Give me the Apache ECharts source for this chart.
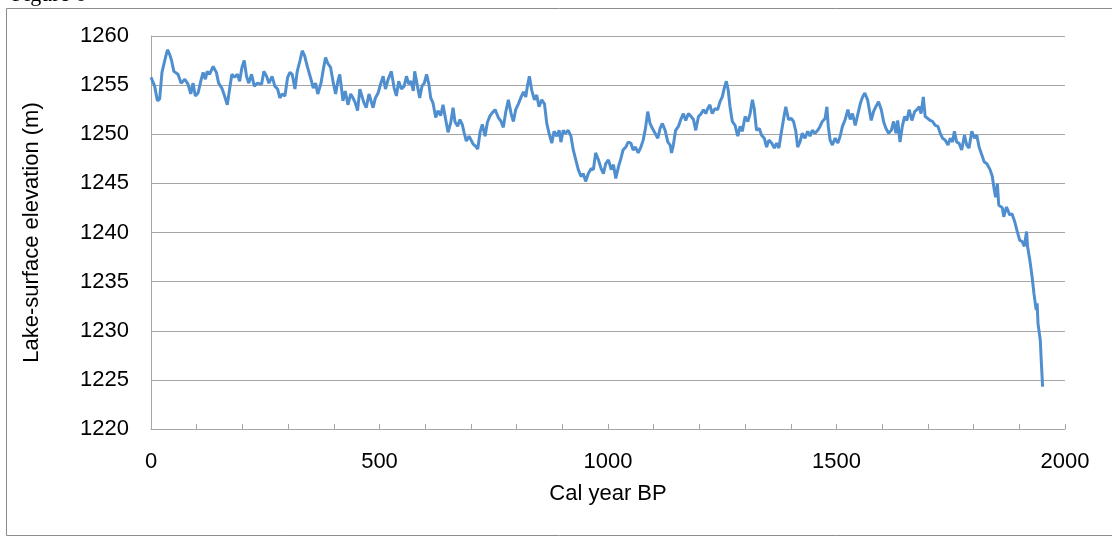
<!DOCTYPE html>
<html>
<head>
<meta charset="utf-8">
<title>Lake-surface elevation</title>
<script src="https://cdn.jsdelivr.net/npm/echarts@6/dist/echarts.min.js"></script>
<style>
  html, body { margin: 0; padding: 0; background: #ffffff; }
  #chart { width: 1112px; height: 542px; }
</style>
</head>
<body>
<div id="chart"></div>
<script>
// Reconstructed lake-surface elevation (m) by calibrated year BP
const years = [
  0, 2, 8, 14, 19, 24, 30, 36, 41, 45, 50, 59, 66, 74, 81, 87, 92, 97, 103, 109,
  114, 119, 123, 128, 136, 143, 148, 155, 161, 167, 172, 177, 183, 189, 194, 199, 204, 209, 214, 220,
  226, 233, 242, 247, 253, 258, 265, 271, 277, 282, 287, 293, 299, 304, 309, 315, 320, 326, 331, 336,
  342, 350, 355, 360, 365, 372, 377, 382, 387, 393, 399, 404, 409, 413, 417, 420, 425, 431, 437, 442,
  447, 452, 457, 461, 466, 471, 477, 481, 486, 491, 497, 503, 508, 513, 519, 526, 532, 537, 542, 548,
  554, 559, 564, 569, 574, 577, 583, 588, 593, 598, 603, 608, 612, 617, 623, 628, 634, 639, 644, 650,
  656, 661, 665, 671, 676, 681, 685, 690, 696, 700, 705, 710, 715, 720, 725, 731, 736, 742, 747, 753,
  760, 766, 771, 776, 782, 788, 793, 798, 804, 810, 815, 820, 824, 828, 833, 839, 844, 849, 855, 861,
  866, 871, 877, 882, 888, 893, 897, 902, 907, 913, 919, 924, 929, 935, 941, 946, 951, 957, 963, 968,
  973, 979, 985, 990, 995, 1001, 1007, 1012, 1017, 1023, 1028, 1033, 1039, 1044, 1050, 1055, 1060, 1066, 1072, 1077,
  1082, 1087, 1092, 1097, 1103, 1109, 1114, 1119, 1125, 1131, 1136, 1139, 1143, 1148, 1154, 1160, 1165, 1170, 1176, 1182,
  1187, 1192, 1198, 1204, 1209, 1214, 1218, 1223, 1228, 1234, 1240, 1245, 1250, 1255, 1259, 1263, 1267, 1272, 1278, 1284,
  1289, 1294, 1300, 1306, 1311, 1316, 1320, 1325, 1331, 1336, 1342, 1347, 1352, 1358, 1364, 1369, 1374, 1379, 1384, 1389,
  1395, 1401, 1406, 1411, 1415, 1420, 1425, 1431, 1437, 1442, 1447, 1453, 1459, 1464, 1469, 1475, 1479, 1482, 1486, 1491,
  1497, 1503, 1508, 1513, 1519, 1525, 1530, 1535, 1541, 1547, 1552, 1557, 1562, 1568, 1576, 1581, 1586, 1592, 1598, 1603,
  1608, 1614, 1620, 1625, 1630, 1634, 1639, 1644, 1649, 1654, 1659, 1665, 1671, 1676, 1681, 1685, 1690, 1694, 1700, 1705,
  1710, 1716, 1722, 1727, 1732, 1738, 1744, 1749, 1754, 1758, 1763, 1768, 1774, 1780, 1785, 1790, 1796, 1802, 1807, 1812,
  1818, 1823, 1829, 1836, 1841, 1844, 1848, 1852, 1855, 1863, 1866, 1872, 1879, 1884, 1890, 1895, 1901, 1906, 1911, 1916,
  1918, 1923, 1928, 1932, 1937, 1939, 1941, 1946, 1948, 1951
];

const elevation = [
  1255.8, 1255.6, 1254.9, 1253.4, 1253.6, 1256.3, 1257.5, 1258.6, 1258.1, 1257.5, 1256.4, 1256.1, 1255.2, 1255.6, 1255.1, 1254.1, 1255.2, 1253.9, 1254.2, 1255.4,
  1256.3, 1255.6, 1256.4, 1256.1, 1256.9, 1256.3, 1255.2, 1254.7, 1253.9, 1253.0, 1254.6, 1256.1, 1255.8, 1256.1, 1255.4, 1256.8, 1257.5, 1255.9, 1255.2, 1256.1,
  1254.9, 1255.2, 1255.1, 1256.4, 1255.9, 1255.2, 1255.9, 1254.9, 1254.6, 1253.7, 1254.1, 1253.9, 1255.8, 1256.3, 1256.1, 1254.6, 1256.4, 1257.5, 1258.5, 1258.0,
  1256.9, 1255.6, 1254.7, 1255.2, 1254.1, 1255.2, 1256.6, 1257.8, 1257.2, 1256.8, 1255.2, 1254.1, 1255.4, 1256.1, 1254.6, 1253.4, 1254.4, 1253.0, 1254.1, 1253.7,
  1253.2, 1252.4, 1254.6, 1254.7, 1253.2, 1252.7, 1254.1, 1254.2, 1252.7, 1253.7, 1254.2, 1255.2, 1255.9, 1254.6, 1255.6, 1256.4, 1254.7, 1253.9, 1255.4, 1254.6,
  1254.9, 1255.9, 1255.1, 1255.4, 1254.4, 1256.4, 1254.9, 1253.7, 1254.9, 1255.2, 1256.1, 1255.1, 1253.7, 1253.2, 1251.7, 1252.4, 1251.9, 1253.0, 1251.7, 1250.2,
  1251.2, 1252.7, 1251.3, 1250.8, 1251.5, 1251.0, 1250.2, 1249.3, 1249.8, 1250.0, 1249.0, 1248.8, 1248.5, 1250.2, 1251.0, 1249.8, 1251.2, 1251.9, 1252.2, 1252.5,
  1251.7, 1251.3, 1250.7, 1252.2, 1253.5, 1252.1, 1251.3, 1252.5, 1253.1, 1253.8, 1254.3, 1253.8, 1255.0, 1255.9, 1254.5, 1253.5, 1254.0, 1252.8, 1253.5, 1253.1,
  1251.1, 1250.1, 1249.1, 1250.3, 1249.8, 1250.4, 1249.2, 1250.4, 1250.1, 1250.4, 1249.8, 1248.4, 1247.5, 1246.4, 1245.7, 1246.0, 1245.2, 1246.0, 1246.5, 1246.4,
  1248.1, 1247.4, 1246.5, 1246.0, 1247.0, 1247.4, 1246.4, 1246.9, 1245.5, 1246.7, 1247.5, 1248.4, 1248.7, 1249.2, 1249.1, 1248.4, 1248.7, 1248.1, 1248.7, 1249.4,
  1250.6, 1252.3, 1251.1, 1250.6, 1250.1, 1249.6, 1250.6, 1251.1, 1250.4, 1249.2, 1248.9, 1248.1, 1248.9, 1250.4, 1250.8, 1251.6, 1252.1, 1251.4, 1252.1, 1251.8,
  1251.5, 1250.4, 1251.8, 1252.1, 1252.5, 1252.1, 1252.6, 1253.0, 1252.1, 1252.6, 1252.5, 1253.3, 1253.8, 1254.8, 1255.4, 1254.5, 1252.8, 1251.3, 1250.9, 1249.8,
  1250.8, 1250.3, 1251.8, 1251.3, 1252.1, 1253.5, 1252.6, 1250.4, 1250.6, 1249.9, 1249.6, 1248.7, 1249.4, 1249.1, 1248.6, 1249.1, 1248.6, 1250.1, 1251.5, 1252.8,
  1251.5, 1251.6, 1251.3, 1250.3, 1248.7, 1249.2, 1250.1, 1249.6, 1250.3, 1249.8, 1250.4, 1250.1, 1250.4, 1250.8, 1251.3, 1251.6, 1252.8, 1250.8, 1249.4, 1248.9,
  1249.6, 1249.1, 1249.8, 1250.8, 1251.5, 1252.5, 1251.5, 1252.1, 1250.9, 1252.1, 1253.1, 1253.8, 1254.2, 1253.5, 1251.4, 1252.3, 1252.8, 1253.3, 1252.5, 1251.3,
  1250.6, 1250.1, 1250.4, 1251.3, 1250.1, 1251.4, 1249.2, 1250.8, 1251.8, 1251.4, 1252.5, 1251.4, 1252.3, 1252.5, 1252.8, 1252.1, 1253.8, 1251.8, 1251.6, 1251.4,
  1251.3, 1250.9, 1250.8, 1250.1, 1249.6, 1249.4, 1248.9, 1249.6, 1249.2, 1250.3, 1249.2, 1249.1, 1248.4, 1249.9, 1248.9, 1248.6, 1250.3, 1249.6, 1249.9, 1248.7,
  1247.9, 1247.2, 1247.0, 1246.4, 1245.7, 1244.7, 1243.6, 1245.0, 1242.8, 1242.5, 1241.6, 1242.6, 1241.8, 1241.9, 1241.1, 1240.2, 1239.2, 1239.1, 1238.6, 1240.1,
  1238.6, 1237.2, 1235.5, 1233.8, 1232.1, 1232.8, 1230.7, 1229.0, 1227.0, 1224.3
];

// Axis ticks and labels
const yTicks = [1220, 1225, 1230, 1235, 1240, 1245, 1250, 1255, 1260];
const xLabelYears = [0, 500, 1000, 1500, 2000];

const seriesData = years.map((y, i) => [y, elevation[i]]);

const FONT = '"Liberation Sans", Arial, sans-serif';
const GRID_GREY = '#a6a6a6';

const chart = echarts.init(document.getElementById('chart'), null, { renderer: 'canvas' });

chart.setOption({
  backgroundColor: '#ffffff',
  animation: false,
  graphic: [
    {
      type: 'rect',
      silent: true,
      shape: { x: 6.5, y: 8.5, width: 1130, height: 527 },
      style: { fill: 'none', stroke: '#8c8c8c', lineWidth: 1 }
    },
    {
      type: 'text',
      silent: true,
      left: 12,
      top: -16,
      style: { text: 'Figure 6', font: '22px "Liberation Serif", serif', fill: '#000' }
    }
  ],
  grid: { left: 151, right: 47, top: 36, bottom: 113 },
  xAxis: {
    type: 'value',
    min: 0,
    max: 2000,
    interval: 100,
    name: 'Cal year BP',
    nameLocation: 'middle',
    nameGap: 54,
    nameTextStyle: { fontFamily: FONT, fontSize: 22, color: '#000' },
    axisLine: { show: true, lineStyle: { color: GRID_GREY, width: 1 } },
    axisTick: { show: true, inside: true, length: 5, lineStyle: { color: GRID_GREY } },
    splitLine: { show: false },
    axisLabel: {
      fontFamily: FONT,
      fontSize: 22,
      color: '#000',
      margin: 22,
      formatter: v => (xLabelYears.includes(v) ? String(v) : '')
    }
  },
  yAxis: {
    type: 'value',
    min: yTicks[0],
    max: yTicks[yTicks.length - 1],
    interval: 5,
    name: 'Lake-surface elevation (m)',
    nameLocation: 'middle',
    nameGap: 108,
    nameTextStyle: { fontFamily: FONT, fontSize: 22, color: '#000' },
    axisLine: { show: true, lineStyle: { color: GRID_GREY, width: 1 } },
    axisTick: { show: false },
    splitLine: { show: true, lineStyle: { color: GRID_GREY, width: 1 } },
    axisLabel: {
      fontFamily: FONT,
      fontSize: 22,
      color: '#000',
      margin: 22,
      formatter: v => String(v)
    }
  },
  series: [
    {
      type: 'line',
      data: seriesData,
      showSymbol: false,
      lineStyle: { color: '#4f8fd0', width: 3 },
      clip: true
    }
  ]
});
</script>
</body>
</html>
